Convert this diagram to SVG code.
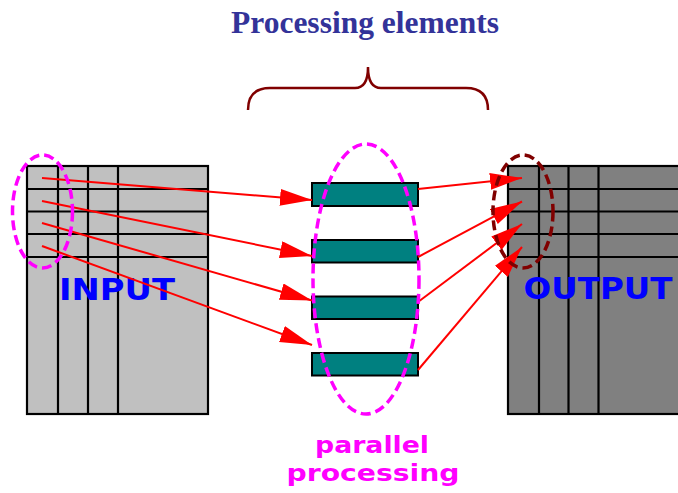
<svg xmlns="http://www.w3.org/2000/svg" width="678" height="493" viewBox="0 0 678 493">
<style>
.grid{stroke:#000;stroke-width:2.2}
.pe{fill:#008080;stroke:#000;stroke-width:2}
.arr{stroke:#ff0000;stroke-width:2;fill:none;marker-end:url(#ah)}
.lbl{font-family:"DejaVu Sans","Liberation Sans",sans-serif;font-weight:bold}
</style>
<defs>
<marker id="ah" markerUnits="userSpaceOnUse" markerWidth="34" markerHeight="18" refX="32" refY="8.5" orient="auto" viewBox="0 0 34 18">
<path d="M0,0 L32,8.5 L0,17 z" fill="#ff0000"/>
</marker>
</defs>
<text x="365" y="33" text-anchor="middle" font-family="Liberation Serif, serif" font-weight="bold" font-size="31" fill="#333399" textLength="268" lengthAdjust="spacingAndGlyphs">Processing elements</text>
<path d="M248,110 Q248,88 270,88 L355,88 Q368,88 368,67 Q368,88 381,88 L466,88 Q488,88 488,110" fill="none" stroke="#800000" stroke-width="2.5"/>
<g id="input">
<rect x="27" y="166" width="181" height="248" fill="#c0c0c0" class="grid"/>
<path class="grid" d="M58,166V414M88,166V414M118,166V414M27,189H208M27,211.5H208M27,234H208M27,257H208"/>
<text class="lbl" x="117" y="300" text-anchor="middle" font-size="30" fill="#0000ff" textLength="116" lengthAdjust="spacingAndGlyphs">INPUT</text>
</g>
<g id="output">
<rect x="508" y="166" width="180" height="248" fill="#808080" class="grid"/>
<path class="grid" d="M539,166V414M568.5,166V414M598.5,166V414M508,189H678M508,211.5H678M508,234H678M508,257H678"/>
<text class="lbl" x="598" y="299" text-anchor="middle" font-size="30" fill="#0000ff" textLength="149" lengthAdjust="spacingAndGlyphs">OUTPUT</text>
</g>
<g id="pes">
<rect class="pe" x="312" y="183" width="106" height="23"/>
<rect class="pe" x="312" y="240" width="106" height="22.5"/>
<rect class="pe" x="312" y="296.5" width="106" height="22.5"/>
<rect class="pe" x="312" y="353" width="106" height="22.5"/>
</g>
<g id="connectors">
<line class="arr" x1="42" y1="178" x2="312" y2="200"/>
<line class="arr" x1="42" y1="201" x2="312" y2="256"/>
<line class="arr" x1="42" y1="223" x2="312" y2="300.5"/>
<line class="arr" x1="42" y1="246" x2="312" y2="345"/>
<line class="arr" x1="418" y1="189" x2="522" y2="178"/>
<line class="arr" x1="418" y1="257" x2="522" y2="201.5"/>
<line class="arr" x1="418" y1="302" x2="522" y2="224"/>
<line class="arr" x1="418" y1="370" x2="522" y2="247"/>
</g>
<g id="groupings" fill="none" stroke-width="3.5" stroke-dasharray="10 5">
<ellipse cx="42.5" cy="211.5" rx="30" ry="56.5" stroke="#ff00ff"/>
<ellipse cx="366" cy="279" rx="53" ry="135" stroke="#ff00ff"/>
<ellipse cx="523" cy="211.5" rx="30" ry="56.5" stroke="#800000"/>
</g>
<g id="caption" class="lbl" fill="#ff00ff" font-size="23" text-anchor="middle">
<text x="372" y="452.5" textLength="114" lengthAdjust="spacingAndGlyphs">parallel</text>
<text x="373" y="481" textLength="173" lengthAdjust="spacingAndGlyphs">processing</text>
</g>
</svg>
